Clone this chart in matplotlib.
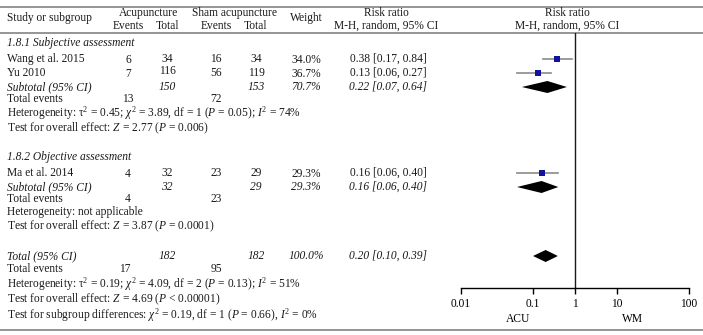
"""
Forest plot: acupuncture vs sham acupuncture, risk ratio (M-H, random, 95% CI).
"""
import matplotlib
matplotlib.use("Agg")
import matplotlib.pyplot as plt
import numpy as np

# ---- data ----
studies = ["Wang et al. 2015", "Yu 2010", "Ma et al. 2014"]
acu_events = [6, 7, 4]
acu_total = [34, 116, 32]
sham_events = [16, 56, 23]
sham_total = [34, 119, 29]
weights = [34.0, 36.7, 29.3]
rr = [0.38, 0.13, 0.16]
ci_lo = [0.17, 0.06, 0.06]
ci_hi = [0.84, 0.27, 0.40]

subgroups = ["1.8.1 Subjective assessment", "1.8.2 Objective assessment"]
sub_acu_total = [150, 32]
sub_sham_total = [153, 29]
sub_acu_events = [13, 4]
sub_sham_events = [72, 23]
sub_weight = [70.7, 29.3]
sub_rr = [0.22, 0.16]
sub_lo = [0.07, 0.06]
sub_hi = [0.64, 0.40]
sub_het = [r"Heterogeneity: τ$^2$ = 0.45; $\chi^2$ = 3.89, df = 1 ($P$ = 0.05); $I^2$ = 74%",
           "Heterogeneity: not applicable"]
sub_test = [r"Test for overall effect: $Z$ = 2.77 ($P$ = 0.006)",
            r"Test for overall effect: $Z$ = 3.87 ($P$ = 0.0001)"]

tot_acu_total, tot_sham_total = 182, 182
tot_acu_events, tot_sham_events = 17, 95
tot_weight = 100.0
tot_rr, tot_lo, tot_hi = 0.20, 0.10, 0.39
tot_het = r"Heterogeneity: τ$^2$ = 0.19; $\chi^2$ = 4.09, df = 2 ($P$ = 0.13); $I^2$ = 51%"
tot_test = r"Test for overall effect: $Z$ = 4.69 ($P$ < 0.00001)"
tot_diff = r"Test for subgroup differences: $\chi^2$ = 0.19, df = 1 ($P$ = 0.66), $I^2$ = 0%"

xticks = [0.01, 0.1, 1, 10, 100]
xticklabels = ["0.01", "0.1", "1", "10", "100"]
favours = ["ACU", "WM"]

# ---- layout (pixel rows / columns) ----
W, H = 703, 335
FS = 8.3
X_LABEL = 7
X_AE, X_AT, X_SE, X_ST, X_W, X_RR = 128, 167, 216, 256, 306, 388
study_rows = [59, 73, 173]
head_rows = [43, 157]
subtotal_rows = [87, 187]
events_rows = [99, 199]
het_rows = [113, 212]
test_rows = [128, 226]
TOT_ROW, TOT_EV, TOT_HET, TOT_TEST, TOT_DIFF = 256, 269, 284, 299, 315
AX_L, AX_R, AX_TOP, AX_BOT = 461, 689, 33, 288

plt.rcParams["font.family"] = ["Liberation Serif", "DejaVu Serif"]
plt.rcParams["mathtext.fontset"] = "custom"
plt.rcParams["mathtext.rm"] = "Liberation Serif"
plt.rcParams["mathtext.it"] = "Liberation Serif:italic"
plt.rcParams["mathtext.bf"] = "Liberation Serif:bold"

fig = plt.figure(figsize=(W / 100, H / 100), dpi=100)
tx = fig.add_axes([0, 0, 1, 1])
tx.set_xlim(0, W)
tx.set_ylim(H, 0)
tx.axis("off")


def put(x, y, s, ha="center", italic=False):
    tx.text(x, y, s, ha=ha, va="center", fontsize=FS,
            style="italic" if italic else "normal", color="#1a1a1a")


# rules
for y in (7, 33, 330):
    tx.plot([0, W], [y, y], color="#8c8c8c", lw=1.3)

# header
put(X_LABEL, 18, "Study or subgroup", ha="left")
put((X_AE + X_AT) / 2 + 1, 13, "Acupuncture")
put((X_SE + X_ST) / 2 - 2, 13, "Sham acupuncture")
for x in (X_AE, X_SE):
    put(x, 26, "Events")
for x in (X_AT, X_ST):
    put(x, 26, "Total")
put(X_W, 18, "Weight")
put(X_RR - 2, 13, "Risk ratio")
put(X_RR - 2, 26, "M-H, random, 95% CI")
put(567, 13, "Risk ratio")
put(567, 26, "M-H, random, 95% CI")

# studies
for i, y in enumerate(study_rows):
    put(X_LABEL, y, studies[i], ha="left")
    put(X_AE, y + 1, str(acu_events[i]))
    put(X_AT, y - 2 if acu_total[i] == 116 else y, str(acu_total[i]))
    put(X_SE, y, str(sham_events[i]))
    put(X_ST, y, str(sham_total[i]))
    put(X_W, y + 1, f"{weights[i]:.1f}%")
    put(X_RR, y, f"{rr[i]:.2f} [{ci_lo[i]:.2f}, {ci_hi[i]:.2f}]")

# subgroups
for g in range(len(subgroups)):
    put(X_LABEL, head_rows[g], subgroups[g], ha="left", italic=True)
    y = subtotal_rows[g]
    put(X_LABEL, y, "Subtotal (95% CI)", ha="left", italic=True)
    put(X_AT, y, str(sub_acu_total[g]), italic=True)
    put(X_ST, y, str(sub_sham_total[g]), italic=True)
    put(X_W, y, f"{sub_weight[g]:.1f}%", italic=True)
    put(X_RR, y, f"{sub_rr[g]:.2f} [{sub_lo[g]:.2f}, {sub_hi[g]:.2f}]", italic=True)
    y = events_rows[g]
    put(X_LABEL, y, "Total events", ha="left")
    put(X_AE, y, str(sub_acu_events[g]))
    put(X_SE, y, str(sub_sham_events[g]))
    put(X_LABEL, het_rows[g], sub_het[g], ha="left")
    put(X_LABEL, test_rows[g], sub_test[g], ha="left")

# overall
put(X_LABEL, TOT_ROW, "Total (95% CI)", ha="left", italic=True)
put(X_AT, TOT_ROW, str(tot_acu_total), italic=True)
put(X_ST, TOT_ROW, str(tot_sham_total), italic=True)
put(X_W, TOT_ROW, f"{tot_weight:.1f}%", italic=True)
put(X_RR, TOT_ROW, f"{tot_rr:.2f} [{tot_lo:.2f}, {tot_hi:.2f}]", italic=True)
put(X_LABEL, TOT_EV, "Total events", ha="left")
put(X_AE - 3, TOT_EV, str(tot_acu_events))
put(X_SE, TOT_EV, str(tot_sham_events))
put(X_LABEL, TOT_HET, tot_het, ha="left")
put(X_LABEL, TOT_TEST, tot_test, ha="left")
put(X_LABEL, TOT_DIFF, tot_diff, ha="left")

# ---- forest panel ----
# the printed axis is stretched: outer decades wider than inner ones
OUTER = 72 / 42


def fwd(x):
    L = np.log10(np.clip(x, 1e-6, None))
    return np.where(L < -1, -1 + (L + 1) * OUTER, np.where(L > 1, 1 + (L - 1) * OUTER, L))


def inv(u):
    L = np.where(u < -1, -1 + (u + 1) / OUTER, np.where(u > 1, 1 + (u - 1) / OUTER, u))
    return 10 ** L


ax = fig.add_axes([AX_L / W, (H - AX_BOT) / H, (AX_R - AX_L) / W, (AX_BOT - AX_TOP) / H])
ax.patch.set_alpha(0)
ax.set_xscale("function", functions=(fwd, inv))
ax.set_xlim(0.01, 100)
ax.set_ylim(AX_BOT, AX_TOP)
for s in ("top", "left", "right"):
    ax.spines[s].set_visible(False)
ax.spines["bottom"].set_linewidth(1.0)
ax.set_yticks([])
ax.set_xticks(xticks)
ax.set_xticklabels(xticklabels, fontsize=FS)
ax.minorticks_off()
ax.tick_params(axis="x", direction="out", length=4, width=1.0, pad=3)
ax.axvline(1, color="#1a1a1a", lw=1.0)

for i, y in enumerate(study_rows):
    ax.plot([ci_lo[i], ci_hi[i]], [y, y], color="#8a8a8a", lw=1.2, zorder=2)
    ax.plot(rr[i], y, marker="s", ms=np.sqrt(weights[i]) * 0.82, mew=0,
            color="#12129c", zorder=3)


def diamond(c, lo, hi, y, h=6):
    ax.fill([lo, c, hi, c], [y, y - h, y, y + h], color="black", lw=0, zorder=3)


for g in range(len(subgroups)):
    diamond(sub_rr[g], sub_lo[g], sub_hi[g], subtotal_rows[g])
diamond(tot_rr, tot_lo, tot_hi, TOT_ROW)

ax.text(0.25, -31 / (AX_BOT - AX_TOP), favours[0], transform=ax.transAxes,
        ha="center", va="center", fontsize=FS)
ax.text(0.75, -31 / (AX_BOT - AX_TOP), favours[1], transform=ax.transAxes,
        ha="center", va="center", fontsize=FS)

fig.savefig("out.png", dpi=100)
